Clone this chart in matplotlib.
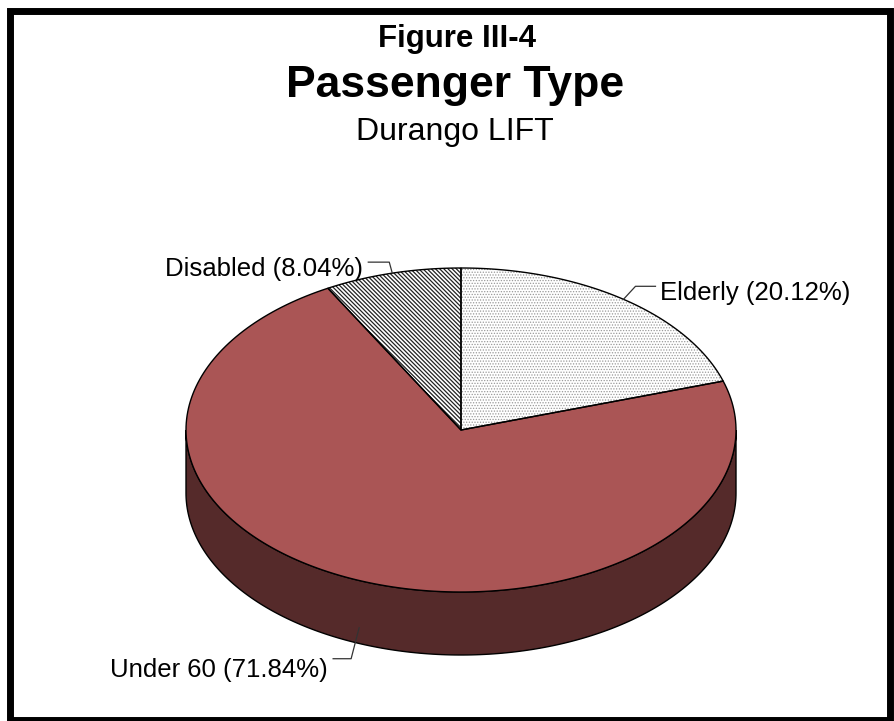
import matplotlib
matplotlib.use('Agg')
import numpy as np
import matplotlib.pyplot as plt
from matplotlib.patches import Polygon, Rectangle

plt.rcParams['font.family'] = ['Liberation Sans', 'DejaVu Sans']

# passenger shares, percent
labels = ["Elderly", "Under 60", "Disabled"]
shares = [20.12, 71.84, 8.04]
top_colors = ["white", "#aa5555", "white"]
side_colors = ["#cfcfcf", "#552a2a", "#6a6a6a"]
hatches = ["......", None, "\\\\\\\\\\\\\\\\"]
hatch_colors = ["#999999", None, "#222222"]

# pie geometry in pixels (y grows downward)
cx, cy = 461, 430
rx, ry = 275, 162
depth = 63


def ellipse_pts(t0, t1, dy=0, n=200):
    t = np.radians(np.linspace(t0, t1, n))
    return np.column_stack([cx + rx * np.cos(t), cy - ry * np.sin(t) + dy])


fig = plt.figure(figsize=(8.95, 7.21), dpi=100)
ax = fig.add_axes([0, 0, 1, 1])
ax.set_xlim(0, 895)
ax.set_ylim(721, 0)
ax.axis('off')

# slice angle ranges, clockwise from 12 o'clock
angles = []
start = 90.0
for s in shares:
    end = start - s * 3.6
    angles.append((start, end))
    start = end

# side walls (front half only: angles 180..360)
for (a0, a1), sc in zip(angles, side_colors):
    lo, hi = min(a0, a1), max(a0, a1)
    for shift in (0, 360, -360):
        l, h = max(lo + shift, 180), min(hi + shift, 360)
        if h > l:
            top = ellipse_pts(l, h)
            bot = ellipse_pts(h, l, dy=depth)
            ax.add_patch(Polygon(np.vstack([top, bot]), closed=True,
                                 facecolor=sc, edgecolor='black', lw=1.0, zorder=1))

# top face wedges
for (a0, a1), fc, h, hc in zip(angles, top_colors, hatches, hatch_colors):
    pts = np.vstack([[cx, cy], ellipse_pts(a0, a1)])
    if h:
        plt.rcParams['hatch.linewidth'] = 0.9 if '\\' in h else 0.6
        ax.add_patch(Polygon(pts, closed=True, facecolor=fc, edgecolor=hc,
                             hatch=h, lw=0, zorder=2))
    else:
        ax.add_patch(Polygon(pts, closed=True, facecolor=fc, lw=0, zorder=2))
    ax.add_patch(Polygon(pts, closed=True, fill=False, edgecolor='black',
                         lw=1.0, zorder=3))

# leader lines and labels
lab_font = 18.5
lead = dict(color='#333333', lw=0.9, zorder=4)
mids = [(a0 + a1) / 2 for a0, a1 in angles]

# Elderly
m = np.radians(mids[0])
p = (cx + rx * np.cos(m), cy - ry * np.sin(m))
ax.plot([p[0], p[0] + 12, p[0] + 32], [p[1], p[1] - 13, p[1] - 13], **lead)
ax.text(p[0] + 37, p[1] + 1, f"{labels[0]} ({shares[0]:.2f}%)",
        fontsize=lab_font, ha='left', va='baseline', zorder=5)

# Under 60 (anchored on the side wall)
m = np.radians(mids[1])
p = (cx + rx * np.cos(m), cy - ry * np.sin(m) + depth * 0.75)
ax.plot([p[0], p[0] - 8, p[0] - 26], [p[1], p[1] + 31, p[1] + 31], **lead)
ax.text(p[0] - 31, p[1] + 49, f"{labels[1]} ({shares[1]:.2f}%)",
        fontsize=lab_font, ha='right', va='baseline', zorder=5)

# Disabled
m = np.radians(mids[2])
p = (cx + rx * np.cos(m), cy - ry * np.sin(m))
ax.plot([p[0], p[0] - 3, p[0] - 24], [p[1], p[1] - 11, p[1] - 11], **lead)
ax.text(p[0] - 29, p[1] + 3, f"{labels[2]} ({shares[2]:.2f}%)",
        fontsize=lab_font, ha='right', va='baseline', zorder=5)

# titles
ax.text(457, 47, "Figure III-4", fontsize=22.5, fontweight='bold',
        ha='center', va='baseline')
ax.text(455, 97, "Passenger Type", fontsize=32, fontweight='bold',
        ha='center', va='baseline')
ax.text(455, 140, "Durango LIFT", fontsize=23, ha='center', va='baseline')

# outer frame
ax.add_patch(Rectangle((10.5, 10.5), 880, 709, fill=False,
                       edgecolor='black', lw=5.0, zorder=6, clip_on=False))

fig.savefig("out.png", dpi=100)
